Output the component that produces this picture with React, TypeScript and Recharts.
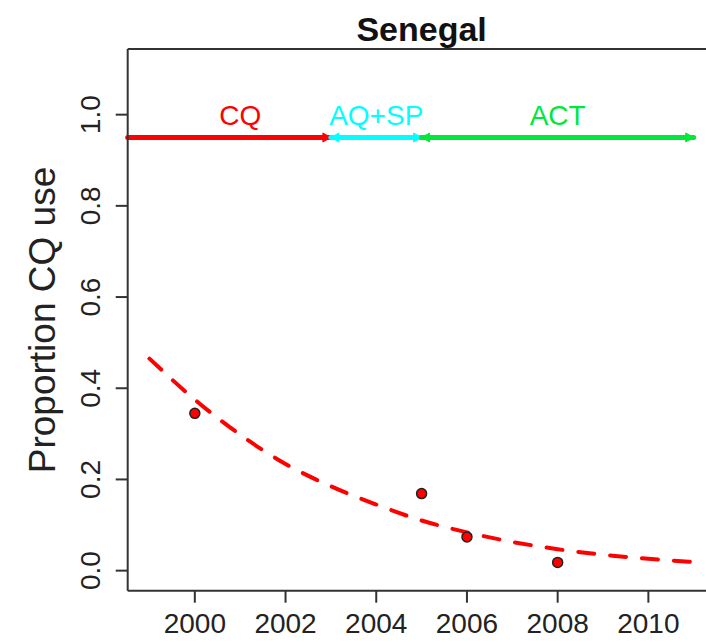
import React from "react";
import { ComposedChart, Line, Scatter, XAxis, YAxis, ReferenceLine, ReferenceDot } from "recharts";

// observed CQ use
const surveyYears = [2000, 2005, 2006, 2008];
const cqUse = [0.345, 0.169, 0.074, 0.018];

// fitted decline (dashed)
const fitYears = [1999, 2000, 2001, 2002, 2003, 2004, 2005, 2006, 2007, 2008, 2009, 2010, 2011];
const fitValues = [0.465, 0.375, 0.298, 0.234, 0.185, 0.145, 0.11, 0.084, 0.063, 0.047, 0.035, 0.026, 0.019];

// drug policy periods
const drugNames = ["CQ", "AQ+SP", "ACT"];
const drugStart = [1990, 2003, 2005];
const drugEnd = [2003, 2005, 2011];
const drugLabelX = [2001, 2004, 2008];
const drugColors = ["#FF0000", "#00FFFF", "#00E83A"];
const policyLevel = 0.95;
const labelLevel = 1.0;

const xTicks = [2000, 2002, 2004, 2006, 2008, 2010];
const yTicks = [0, 0.2, 0.4, 0.6, 0.8, 1.0];

const X_MIN = 1998.52;
const X_MAX = 2011.48;
const Y_MIN = -0.044;
const Y_MAX = 1.144;

const FONT = '"Liberation Sans", Arial, Helvetica, sans-serif';
const AXIS = "#333";

const obsData = surveyYears.map((year, i) => ({ year, p: cqUse[i] }));
const fitData = fitYears.map((year, i) => ({ year, p: fitValues[i] }));

const XTick = (props: any) => {
  const { x, y, payload } = props;
  return (
    <text x={x} y={y} dy={28} textAnchor="middle" fontSize={28} fill="#222" fontFamily={FONT}>
      {payload.value}
    </text>
  );
};

const YTick = (props: any) => {
  const { x, y, payload } = props;
  const cx = x - 24;
  return (
    <text
      x={cx}
      y={y}
      dy={10}
      textAnchor="middle"
      fontSize={28}
      fill="#222"
      fontFamily={FONT}
      transform={`rotate(-90, ${cx}, ${y})`}
    >
      {payload.value.toFixed(1)}
    </text>
  );
};

const head = (x: number, y: number, dir: number, color: string) => {
  const len = 8;
  const half = 4.5;
  return (
    <polygon
      points={`${x},${y} ${x - dir * len},${y - half} ${x - dir * len},${y + half}`}
      fill={color}
      stroke={color}
      strokeWidth={1}
    />
  );
};

const arrowShape = (color: string, startHead: boolean) => (props: any) => {
  const { x1, y1, x2, y2 } = props;
  return (
    <g>
      <line x1={x1} y1={y1} x2={x2} y2={y2} stroke={color} strokeWidth={5} strokeLinecap="round" />
      {startHead && head(x1, y1, -1, color)}
      {head(x2, y2, 1, color)}
    </g>
  );
};

export default function App() {
  return (
    <div
      style={{
        position: "absolute",
        left: 0,
        top: 0,
        width: 706,
        height: 642,
        overflow: "hidden",
        background: "#fff",
      }}
    >
      <ComposedChart width={740} height={642} margin={{ top: 49, right: 24.5, bottom: 0, left: 0 }}>
        <XAxis
          dataKey="year"
          type="number"
          domain={[X_MIN, X_MAX]}
          ticks={xTicks}
          allowDataOverflow
          height={51.3}
          tickSize={12}
          axisLine={{ stroke: AXIS, strokeWidth: 2 }}
          tickLine={{ stroke: AXIS, strokeWidth: 2 }}
          tick={<XTick />}
        />
        <YAxis
          type="number"
          domain={[Y_MIN, Y_MAX]}
          ticks={yTicks}
          allowDataOverflow
          width={127.7}
          tickSize={12}
          axisLine={{ stroke: AXIS, strokeWidth: 2 }}
          tickLine={{ stroke: AXIS, strokeWidth: 2 }}
          tick={<YTick />}
          label={(p: any) => (
            <text
              x={41.7}
              y={320}
              dy={13}
              textAnchor="middle"
              fontSize={37}
              fill="#222"
              fontFamily={FONT}
              transform="rotate(-90, 41.7, 320)"
            >
              Proportion CQ use
            </text>
          )}
        />
        <ReferenceLine
          y={Y_MAX}
          stroke={AXIS}
          strokeWidth={2}
          ifOverflow="visible"
          label={(p: any) => {
            const vb = p.viewBox || {};
            return (
              <text
                x={vb.x + vb.width / 2}
                y={41}
                textAnchor="middle"
                fontSize={34}
                fontWeight="bold"
                fill="#111"
                fontFamily={FONT}
              >
                Senegal
              </text>
            );
          }}
        />
        {drugNames.map((name, i) => (
          <ReferenceLine
            key={name}
            segment={[
              { x: Math.max(drugStart[i], X_MIN), y: policyLevel },
              { x: drugEnd[i], y: policyLevel },
            ]}
            ifOverflow="visible"
            shape={arrowShape(drugColors[i], drugStart[i] >= X_MIN)}
          />
        ))}
        {drugNames.map((name, i) => (
          <ReferenceDot
            key={"lab" + name}
            x={drugLabelX[i]}
            y={labelLevel}
            r={0}
            ifOverflow="visible"
            shape={(p: any) => (
              <text
                x={p.cx}
                y={p.cy}
                dy={10}
                textAnchor="middle"
                fontSize={28}
                fill={drugColors[i]}
                fontFamily={FONT}
              >
                {name}
              </text>
            )}
          />
        ))}
        <Line
          data={fitData}
          dataKey="p"
          type="monotone"
          stroke="#FF0000"
          strokeWidth={4}
          strokeDasharray="16 16"
          strokeLinecap="round"
          dot={false}
          activeDot={false}
          isAnimationActive={false}
        />
        <Scatter
          data={obsData}
          dataKey="p"
          isAnimationActive={false}
          shape={(p: any) => <circle cx={p.cx} cy={p.cy} r={5} fill="#FF0000" stroke="#222" strokeWidth={1.5} />}
        />
      </ComposedChart>
    </div>
  );
}
